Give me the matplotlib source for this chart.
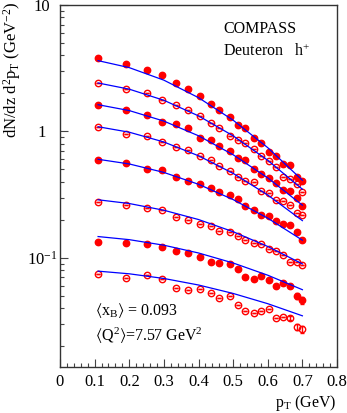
import matplotlib
matplotlib.use('Agg')
import matplotlib.pyplot as plt
from matplotlib.ticker import FixedLocator, FixedFormatter, LogLocator, MultipleLocator, NullFormatter

plt.rcParams['font.family'] = ['Liberation Serif', 'DejaVu Serif']
plt.rcParams['mathtext.fontset'] = 'stix'
plt.rcParams['mathtext.default'] = 'regular'

# pT bin centres (GeV)
pt = [0.11, 0.19, 0.25, 0.295, 0.335, 0.37, 0.405, 0.435, 0.46, 0.49,
      0.515, 0.535, 0.56, 0.58, 0.605, 0.625, 0.645, 0.665, 0.685, 0.70]

# measured multiplicities, top to bottom (filled / open alternate)
s1 = [3.81, 3.42, 3.08, 2.78, 2.43, 2.18, 1.92, 1.66, 1.47, 1.30,
      1.13, 1.06, 0.887, 0.810, 0.682, 0.634, 0.555, 0.545, 0.440, 0.402]
s2 = [2.42, 2.17, 2.01, 1.78, 1.61, 1.47, 1.33, 1.17, 1.06, 0.925,
      0.849, 0.809, 0.729, 0.634, 0.579, 0.523, 0.440, 0.420, 0.385, 0.331]
s3 = [1.63, 1.49, 1.34, 1.19, 1.14, 1.06, 0.887, 0.849, 0.761, 0.694,
      0.619, 0.597, 0.507, 0.463, 0.428, 0.390, 0.347, 0.339, 0.299, 0.258]
s4 = [1.08, 0.954, 0.925, 0.818, 0.750, 0.716, 0.634, 0.597, 0.528, 0.489,
      0.440, 0.407, 0.398, 0.335, 0.325, 0.288, 0.283, 0.263, 0.226, 0.219]
s5 = [0.597, 0.562, 0.507, 0.495, 0.440, 0.402, 0.383, 0.356, 0.329, 0.315,
      0.293, 0.255, 0.237, 0.219, 0.216, 0.197, 0.185, 0.183, 0.160, 0.139]
s6 = [0.279, 0.263, 0.247, 0.240, 0.210, 0.199, 0.186, 0.179, 0.164, 0.160,
      0.150, 0.138, 0.132, 0.129, 0.117, 0.114, 0.106, 0.0925, 0.0935, 0.0881]
s7 = [0.133, 0.132, 0.128, 0.121, 0.113, 0.110, 0.102, 0.0935, 0.0908, 0.0901,
      0.0814, 0.0707, 0.0682, 0.0716, 0.0670, 0.0600, 0.0637, 0.0600, 0.0500, 0.0463]
s8 = [0.0747, 0.0698, 0.0734, 0.0682, 0.0576, 0.0558, 0.0565, 0.0525, 0.0480, 0.0500,
      0.0424, 0.0380, 0.0369, 0.0380, 0.0391, 0.0335, 0.0339, 0.0333, 0.0284, 0.0273]

# statistical errors (visible only at the highest pT of the two lowest series)
e7 = [0, 0, 0, 0, 0, 0, 0, 0, 0, 0, 0, 0, 0, 0, 0, 0, 0, 0.0025, 0.0028, 0.0030]
e8 = [0, 0, 0, 0, 0, 0, 0, 0, 0, 0, 0, 0, 0, 0, 0, 0, 0, 0.0012, 0.0016, 0.0017]
e0 = [0] * 20

series = [s1, s2, s3, s4, s5, s6, s7, s8]
errors = [e0, e0, e0, e0, e0, e0, e7, e8]
filled = [True, False, True, False, True, False, True, False]

# fitted curves (blue) evaluated at these pT values
pt_fit = [0.11, 0.2, 0.3, 0.4, 0.5, 0.6, 0.7]
f1 = [3.63, 3.196, 2.544, 1.850, 1.227, 0.744, 0.411]
f2 = [2.416, 2.159, 1.763, 1.328, 0.923, 0.591, 0.349]
f3 = [1.627, 1.462, 1.207, 0.924, 0.654, 0.429, 0.261]
f4 = [1.089, 0.986, 0.825, 0.642, 0.466, 0.314, 0.197]
f5 = [0.602, 0.553, 0.474, 0.382, 0.289, 0.206, 0.138]
f6 = [0.288, 0.269, 0.238, 0.201, 0.161, 0.123, 0.0896]
f7 = [0.1474, 0.1393, 0.1259, 0.1093, 0.0911, 0.0729, 0.0560]
f8 = [0.0785, 0.0748, 0.0687, 0.0610, 0.0523, 0.0434, 0.0348]
fits = [f1, f2, f3, f4, f5, f6, f7, f8]

x_ticks = [0, 0.1, 0.2, 0.3, 0.4, 0.5, 0.6, 0.7, 0.8]
x_labels = ['0', '0.1', '0.2', '0.3', '0.4', '0.5', '0.6', '0.7', '0.8']
y_ticks = [0.1, 1, 10]
y_labels = ['$10^{-1}$', '1', '10']

W, H = 347, 413
fig = plt.figure(figsize=(W / 100, H / 100), dpi=100)
ax = fig.add_axes([60 / W, 46 / H, 277 / W, 362 / H])

for vals, err, fill in zip(series, errors, filled):
    ax.errorbar(pt, vals, yerr=err, fmt='o', ms=4.6,
                mfc='red' if fill else 'none', mec='red', mew=1.0,
                ecolor='red', elinewidth=1.0, capsize=1.5, capthick=1.0,
                zorder=3)
for f in fits:
    ax.plot(pt_fit, f, color='blue', lw=0.9, zorder=4)

ax.set_yscale('log')
ax.set_xlim(0, 0.8)
ax.set_ylim(0.0137, 10)

ax.xaxis.set_major_locator(FixedLocator(x_ticks))
ax.xaxis.set_major_formatter(FixedFormatter(x_labels))
ax.xaxis.set_minor_locator(MultipleLocator(0.02))
ax.yaxis.set_major_locator(FixedLocator(y_ticks))
ax.yaxis.set_major_formatter(FixedFormatter(y_labels))
ax.yaxis.set_minor_locator(LogLocator(base=10, subs=range(2, 10)))
ax.yaxis.set_minor_formatter(NullFormatter())

ax.tick_params(which='both', direction='in', top=False, right=False,
               width=0.8, color='#444444', labelsize=12)
ax.tick_params(which='major', length=6)
ax.tick_params(which='minor', length=3)
ax.tick_params(axis='x', which='major', pad=5)
ax.tick_params(axis='y', which='major', pad=13)
for lab in ax.get_yticklabels():
    lab.set_horizontalalignment('center')
for sp in ax.spines.values():
    sp.set_linewidth(1.0)
    sp.set_color('#333333')

fig.text(223 / W, 1 - 29 / H, 'COMPASS', ha='left', va='center', fontsize=11.5)
fig.text(223 / W, 1 - 52 / H, 'Deuteron   h$^{+}$', ha='left', va='center', fontsize=11.5)
fig.text(95 / W, 1 - 311 / H, r'$\langle$x$_{B}$$\rangle$ = 0.093', ha='left', va='center', fontsize=11.5)
fig.text(95 / W, 1 - 336 / H, r'$\langle$Q$^{2}$$\rangle$=7.57 GeV$^{2}$', ha='left', va='center', fontsize=11.5)

fig.text(337 / W, 1 - 403 / H, 'p$_{T}$ (GeV)', ha='right', va='center', fontsize=11.5)
fig.text(12 / W, 1 - 2 / H, 'dN/dz d$^{2}$p$_{T}$ (GeV$^{-2}$)', rotation=90,
         ha='center', va='top', fontsize=12)

fig.savefig('out.png', dpi=100)
